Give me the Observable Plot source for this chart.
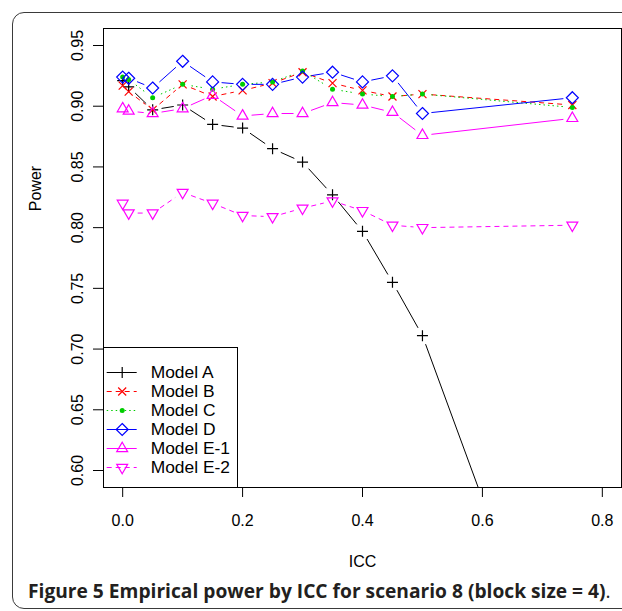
<!DOCTYPE html>
<html><head><meta charset="utf-8">
<script src="https://cdn.jsdelivr.net/npm/d3@7"></script>
<script src="https://cdn.jsdelivr.net/npm/@observablehq/plot@0.6"></script>
<style>
body{margin:0;background:#fff;}
#wrap{position:relative;width:622px;height:611px;overflow:hidden;background:#fff;}
#border{position:absolute;left:12px;top:12px;width:680px;height:597px;border:1.5px solid #3a3a3a;border-radius:12px;box-sizing:border-box;}
#chart{position:absolute;left:0;top:0;}
#legend{position:absolute;left:102px;top:346px;}
#caption{position:absolute;left:28px;top:579px;font-family:"Open Sans",sans-serif;font-size:19.2px;line-height:24px;white-space:nowrap;color:#231f20;}
#caption b{font-weight:700;}
</style></head>
<body>
<div id="wrap">
  <div id="border"></div>
  <div id="chart"></div>
  <div id="legend"></div>
  <div id="caption"><b>Figure 5 Empirical power by ICC for scenario 8 (block size = 4)</b>.</div>
</div>
<script>
// ---------- data ----------
const icc = [0, 0.01, 0.05, 0.1, 0.15, 0.2, 0.25, 0.3, 0.35, 0.4, 0.45, 0.5, 0.75];
const modelA  = [0.921, 0.916, 0.897, 0.901, 0.885, 0.882, 0.865, 0.854, 0.827, 0.797, 0.755, 0.711, 0.375];
const modelB  = [0.917, 0.912, 0.897, 0.918, 0.908, 0.913, 0.919, 0.928, 0.919, 0.913, 0.908, 0.910, 0.901];
const modelC  = [0.924, 0.922, 0.907, 0.918, 0.914, 0.918, 0.920, 0.929, 0.914, 0.910, 0.908, 0.910, 0.899];
const modelD  = [0.924, 0.923, 0.915, 0.937, 0.920, 0.918, 0.918, 0.924, 0.928, 0.920, 0.925, 0.894, 0.907];
const modelE1 = [0.898, 0.896, 0.894, 0.898, 0.909, 0.892, 0.894, 0.894, 0.903, 0.901, 0.895, 0.876, 0.890];
const modelE2 = [0.820, 0.812, 0.812, 0.829, 0.820, 0.810, 0.809, 0.816, 0.822, 0.814, 0.802, 0.800, 0.802];
const modelNames = ["Model A", "Model B", "Model C", "Model D", "Model E-1", "Model E-2"];
const xTicks = [0, 0.2, 0.4, 0.6, 0.8];
const yTicks = [0.60, 0.65, 0.70, 0.75, 0.80, 0.85, 0.90, 0.95];
const xLabel = "ICC";
const yLabel = "Power";

// ---------- R-like point symbols ----------
const symPlus = {draw(c){const h=5.5;c.moveTo(-h,0);c.lineTo(h,0);c.moveTo(0,-h);c.lineTo(0,h);}};
const symTimes = {draw(c){const h=4;c.moveTo(-h,-h);c.lineTo(h,h);c.moveTo(-h,h);c.lineTo(h,-h);}};
const symDot = {draw(c){const r=2.5;c.moveTo(r,0);c.arc(0,0,r,0,2*Math.PI);}};
const symDiamond = {draw(c){const h=6;c.moveTo(0,-h);c.lineTo(h,0);c.lineTo(0,h);c.lineTo(-h,0);c.closePath();}};
const symTriUp = {draw(c){const r=6.3,w=r*Math.sqrt(3)/2;c.moveTo(0,-r);c.lineTo(w,r/2);c.lineTo(-w,r/2);c.closePath();}};
const symTriDown = {draw(c){const r=6.3,w=r*Math.sqrt(3)/2;c.moveTo(0,r);c.lineTo(w,-r/2);c.lineTo(-w,-r/2);c.closePath();}};

const values = [modelA, modelB, modelC, modelD, modelE1, modelE2];
const colors = ["#000000", "#FF0000", "#00CD00", "#0000FF", "#FF00FF", "#FF00FF"];
const dashes = [null, "5,4", "1.5,3", null, null, "5,4"];
const symbols = [symPlus, symTimes, symDot, symDiamond, symTriUp, symTriDown];
const filled = [false, false, true, false, false, false];

const series = modelNames.map((name, k) => ({
  name, values: values[k], color: colors[k], dash: dashes[k], symbol: symbols[k], filled: filled[k]
}));

const font = "'Liberation Sans', Arial, Helvetica, sans-serif";

// ---------- main chart ----------
const marks = [Plot.frame({stroke: "black", strokeWidth: 1})];
for (const s of series) {
  const pts = icc.map((x, i) => ({x, y: s.values[i]}));
  const segs = pts.slice(1).map((p, i) => ({x1: pts[i].x, y1: pts[i].y, x2: p.x, y2: p.y}));
  marks.push(Plot.arrow(segs, {
    x1: "x1", y1: "y1", x2: "x2", y2: "y2", stroke: s.color, strokeWidth: 1,
    strokeDasharray: s.dash, headLength: 0, inset: 9, strokeLinecap: "butt", clip: true
  }));
  marks.push(Plot.dot(pts, {
    x: "x", y: "y", symbol: s.symbol,
    fill: s.filled ? s.color : "none", stroke: s.filled ? "none" : s.color,
    strokeWidth: 1.2, clip: true
  }));
}
marks.push(
  Plot.axisX(xTicks, {tickSize: 10, tickPadding: 17, tickFormat: d3.format(".1f"), fontSize: 16, label: null}),
  Plot.axisY(yTicks, {tickSize: 10, tickFormat: () => "", label: null}),
  Plot.text(yTicks, {y: d => d, frameAnchor: "left", dx: -26, rotate: -90, text: d3.format(".2f"),
    textAnchor: "middle", lineAnchor: "middle", fontSize: 16}),
  Plot.text([yLabel], {frameAnchor: "top-left", dx: 35 - 103, dy: 188 - 28, rotate: -90,
    textAnchor: "middle", lineAnchor: "middle", fontSize: 16}),
  Plot.text([xLabel], {frameAnchor: "bottom", dy: 74, textAnchor: "middle", lineAnchor: "middle", fontSize: 16})
);

const chart = Plot.plot({
  width: 622, height: 575,
  marginLeft: 103, marginRight: 1, marginTop: 28, marginBottom: 88,
  style: {fontFamily: font, color: "black", background: "transparent", overflow: "visible"},
  x: {domain: [-0.032, 0.832], label: null, axis: null},
  y: {domain: [0.586, 0.964], label: null, axis: null},
  marks
});
document.getElementById("chart").appendChild(chart);

// ---------- legend ----------
const lmarks = [Plot.frame({fill: "white", stroke: "black", strokeWidth: 1})];
for (const s of series) {
  lmarks.push(Plot.ruleY([s.name], {y: d => d, x1: 4.7, x2: 34.7, stroke: s.color, strokeWidth: 1, strokeDasharray: s.dash}));
  lmarks.push(Plot.dot([s.name], {x: () => 19.7, y: d => d, symbol: s.symbol,
    fill: s.filled ? s.color : "none", stroke: s.filled ? "none" : s.color, strokeWidth: 1.2}));
}
lmarks.push(Plot.text(series, {x: () => 48.2, y: "name", text: "name", textAnchor: "start", lineAnchor: "middle", fontSize: 17.4}));

const legend = Plot.plot({
  width: 136, height: 142, marginLeft: 1, marginRight: 1, marginTop: 1, marginBottom: 1,
  style: {fontFamily: font, color: "black", background: "transparent", overflow: "visible"},
  x: {type: "identity", axis: null},
  y: {type: "point", domain: modelNames, range: [25.7, 122.3], padding: 0, axis: null},
  marks: lmarks
});
document.getElementById("legend").appendChild(legend);
</script>
</body></html>
